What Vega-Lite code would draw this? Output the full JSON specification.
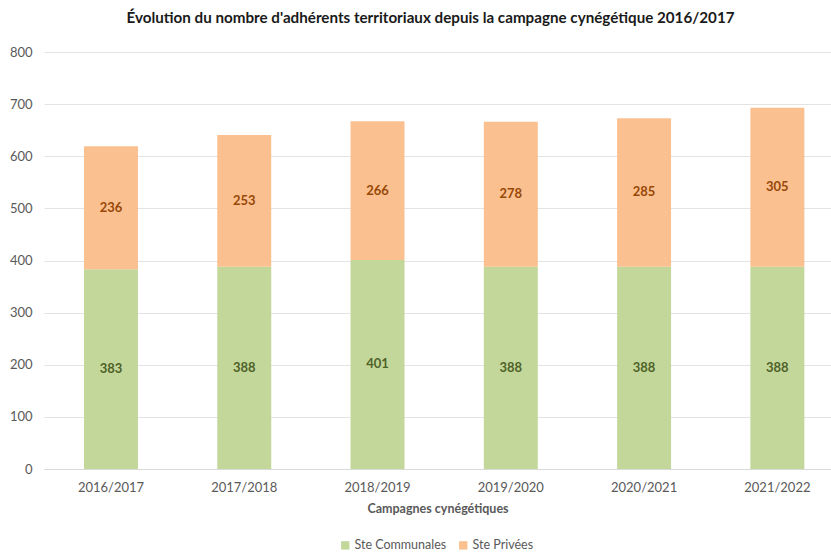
{
  "$schema": "https://vega.github.io/schema/vega-lite/v6.json",
  "autosize": {"type": "none"},
  "width": 787,
  "height": 417,
  "padding": {"left": 44, "top": 52, "right": 0, "bottom": 83},
  "background": "white",
  "config": {
    "font": "Lato",
    "view": {"stroke": null}
  },
  "title": {
    "text": "Évolution du nombre d'adhérents territoriaux depuis la campagne cynégétique 2016/2017",
    "fontSize": 15.2,
    "fontWeight": "bold",
    "color": "#1a1a1a",
    "anchor": "middle",
    "dx": -7,
    "offset": 20,
    "font": "Lato"
  },
  "data": {
    "values": [
      {"campagne": "2016/2017", "serie": "Ste Communales", "valeur": 383},
      {"campagne": "2016/2017", "serie": "Ste Privées", "valeur": 236},
      {"campagne": "2017/2018", "serie": "Ste Communales", "valeur": 388},
      {"campagne": "2017/2018", "serie": "Ste Privées", "valeur": 253},
      {"campagne": "2018/2019", "serie": "Ste Communales", "valeur": 401},
      {"campagne": "2018/2019", "serie": "Ste Privées", "valeur": 266},
      {"campagne": "2019/2020", "serie": "Ste Communales", "valeur": 388},
      {"campagne": "2019/2020", "serie": "Ste Privées", "valeur": 278},
      {"campagne": "2020/2021", "serie": "Ste Communales", "valeur": 388},
      {"campagne": "2020/2021", "serie": "Ste Privées", "valeur": 285},
      {"campagne": "2021/2022", "serie": "Ste Communales", "valeur": 388},
      {"campagne": "2021/2022", "serie": "Ste Privées", "valeur": 305}
    ]
  },
  "transform": [
    {"stack": "valeur", "groupby": ["campagne"], "sort": [{"field": "serie", "order": "ascending"}], "as": ["v0", "v1"]},
    {"calculate": "(datum.v0 + datum.v1) / 2", "as": "vmid"}
  ],
  "encoding": {
    "x": {
      "field": "campagne",
      "type": "nominal",
      "title": "Campagnes cynégétiques",
      "scale": {"paddingInner": 0.595, "paddingOuter": 0.25, "align": 0.6},
      "axis": {
        "labelAngle": 0,
        "labelFontSize": 13,
        "labelColor": "#595959",
        "labelPadding": 12,
        "ticks": false,
        "domainColor": "#d9d9d9",
        "domainWidth": 1,
        "titleFontSize": 12.5,
        "titleFontWeight": "bold",
        "titleColor": "#595959",
        "titlePadding": 8
      }
    }
  },
  "layer": [
    {
      "mark": {"type": "bar"},
      "encoding": {
        "y": {
          "field": "v0",
          "type": "quantitative",
          "scale": {"domain": [0, 800]},
          "title": null,
          "axis": {
            "values": [0, 100, 200, 300, 400, 500, 600, 700, 800],
            "labelFontSize": 13,
            "labelColor": "#595959",
            "ticks": false,
            "domain": false,
            "gridColor": "#e3e3e3",
            "gridWidth": 1,
            "labelPadding": 12
          }
        },
        "y2": {"field": "v1"},
        "color": {
          "field": "serie",
          "type": "nominal",
          "scale": {"domain": ["Ste Communales", "Ste Privées"], "range": ["#c4d79b", "#fac090"]},
          "legend": {
            "title": null,
            "orient": "none",
            "direction": "horizontal",
            "legendX": 295,
            "legendY": 487,
            "symbolType": "square",
            "symbolSize": 70,
            "symbolStrokeWidth": 0,
            "labelFontSize": 12.5,
            "labelColor": "#595959",
            "columnPadding": 10,
            "labelOffset": 3
          }
        }
      }
    },
    {
      "mark": {"type": "text", "fontWeight": "bold", "fontSize": 13, "baseline": "middle", "align": "center"},
      "encoding": {
        "y": {"field": "vmid", "type": "quantitative"},
        "text": {"field": "valeur", "type": "quantitative"},
        "color": {
          "condition": {"test": "datum.serie === 'Ste Communales'", "value": "#4f6228"},
          "value": "#984807"
        }
      }
    }
  ]
}
